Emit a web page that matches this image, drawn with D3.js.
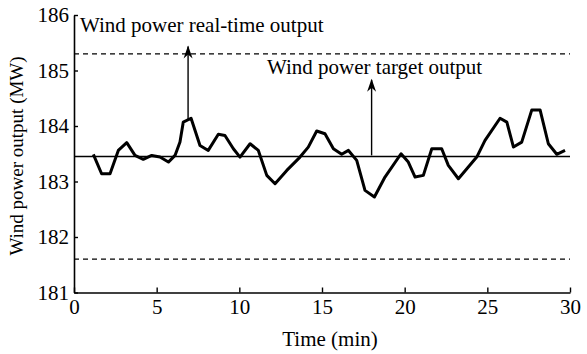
<!DOCTYPE html>
<html><head><meta charset="utf-8">
<script src="https://cdn.jsdelivr.net/npm/d3@7"></script>
<style>body{margin:0;background:#fff}svg{display:block}text{font-family:"Liberation Serif","Times New Roman",serif}</style>
</head><body>
<script>
// Data
const timeMin = [1.17,1.67,2.18,2.68,3.19,3.69,4.19,4.70,5.20,5.71,6.11,6.41,6.61,7.08,7.62,8.12,8.73,9.13,9.64,10.04,10.65,11.15,11.66,12.16,12.87,13.67,14.17,14.68,15.18,15.69,16.19,16.60,17.10,17.60,18.17,18.81,19.78,20.22,20.63,21.13,21.64,22.24,22.64,23.25,24.36,24.86,25.77,26.18,26.58,27.08,27.69,28.19,28.69,29.20,29.70];
const outputMW = [183.49,183.14,183.14,183.56,183.70,183.47,183.40,183.47,183.44,183.35,183.47,183.71,184.07,184.14,183.65,183.56,183.85,183.83,183.59,183.44,183.68,183.56,183.11,182.96,183.20,183.44,183.62,183.91,183.86,183.59,183.49,183.56,183.38,182.84,182.72,183.08,183.50,183.35,183.08,183.11,183.59,183.59,183.29,183.05,183.44,183.74,184.14,184.07,183.62,183.71,184.29,184.29,183.68,183.49,183.56];
const targetMW = 183.45;
const upperLimit = 185.3;
const lowerLimit = 181.6;
const xTicks = [0,5,10,15,20,25,30];
const yTicks = [181,182,183,184,185,186];
const labels = ["Wind power real-time output","Wind power target output"];

const W = 587, H = 354;
const FS = "21px";
const svg = d3.select("body").append("svg").attr("width", W).attr("height", H);
const x = d3.scaleLinear().domain([0,30]).range([74,570]);
const y = d3.scaleLinear().domain([181,186]).range([292.5,15]);

// axes
const gx = svg.append("g").attr("transform",`translate(0,${y(181)})`)
  .call(d3.axisBottom(x).tickValues(xTicks).tickFormat(d3.format("d")).tickSizeInner(-5).tickSizeOuter(0).tickPadding(7));
const gy = svg.append("g").attr("transform",`translate(${x(0)},0)`)
  .call(d3.axisLeft(y).tickValues(yTicks).tickFormat(d3.format("d")).tickSizeInner(-4).tickSizeOuter(0).tickPadding(5));
[gx,gy].forEach(g=>{
  g.select(".domain").attr("stroke","#000").attr("stroke-width",1.6);
  g.selectAll(".tick line").attr("stroke","#000").attr("stroke-width",1.4);
  g.selectAll(".tick text").attr("fill","#000").style("font-size",FS).style("font-family","Liberation Serif");
});

// reference lines
[upperLimit, lowerLimit].forEach(v=>{
  svg.append("line").attr("x1",x(0)).attr("x2",x(30)).attr("y1",y(v)).attr("y2",y(v))
    .attr("stroke","#000").attr("stroke-width",1.3).attr("stroke-dasharray","5,4");
});
svg.append("line").attr("x1",x(0)).attr("x2",x(30)).attr("y1",y(targetMW)).attr("y2",y(targetMW))
  .attr("stroke","#000").attr("stroke-width",1.6);

// series
const pts = timeMin.map((t,i)=>[t,outputMW[i]]);
svg.append("path").datum(pts)
  .attr("d", d3.line().x(d=>x(d[0])).y(d=>y(d[1])).curve(d3.curveLinear))
  .attr("fill","none").attr("stroke","#000").attr("stroke-width",3).attr("stroke-linejoin","round");

// arrows
function arrowV(t, v0, v1){
  svg.append("line").attr("x1",x(t)).attr("x2",x(t)).attr("y1",y(v0)).attr("y2",y(v1)+1)
    .attr("stroke","#000").attr("stroke-width",1.4);
  svg.append("path").attr("transform",`translate(${x(t)-5},${y(v1)})`)
    .attr("d","M5,0 L9.5,13 L5,9 L0.5,13 Z").attr("fill","#000");
}
arrowV(6.9, 184.12, 185.45);
arrowV(18.0, 183.47, 184.85);

// text labels
svg.append("text").attr("x",80).attr("y",32).style("font-size",FS).text(labels[0]);
svg.append("text").attr("x",267).attr("y",74).style("font-size",FS).text(labels[1]);

// axis titles
svg.append("text").attr("x",330).attr("y",346).attr("text-anchor","middle")
  .style("font-size",FS).text("Time (min)");
svg.append("text").attr("transform",`translate(23,${156}) rotate(-90)`).attr("text-anchor","middle")
  .style("font-size","19px").text("Wind power output (MW)");
</script>
</body></html>
